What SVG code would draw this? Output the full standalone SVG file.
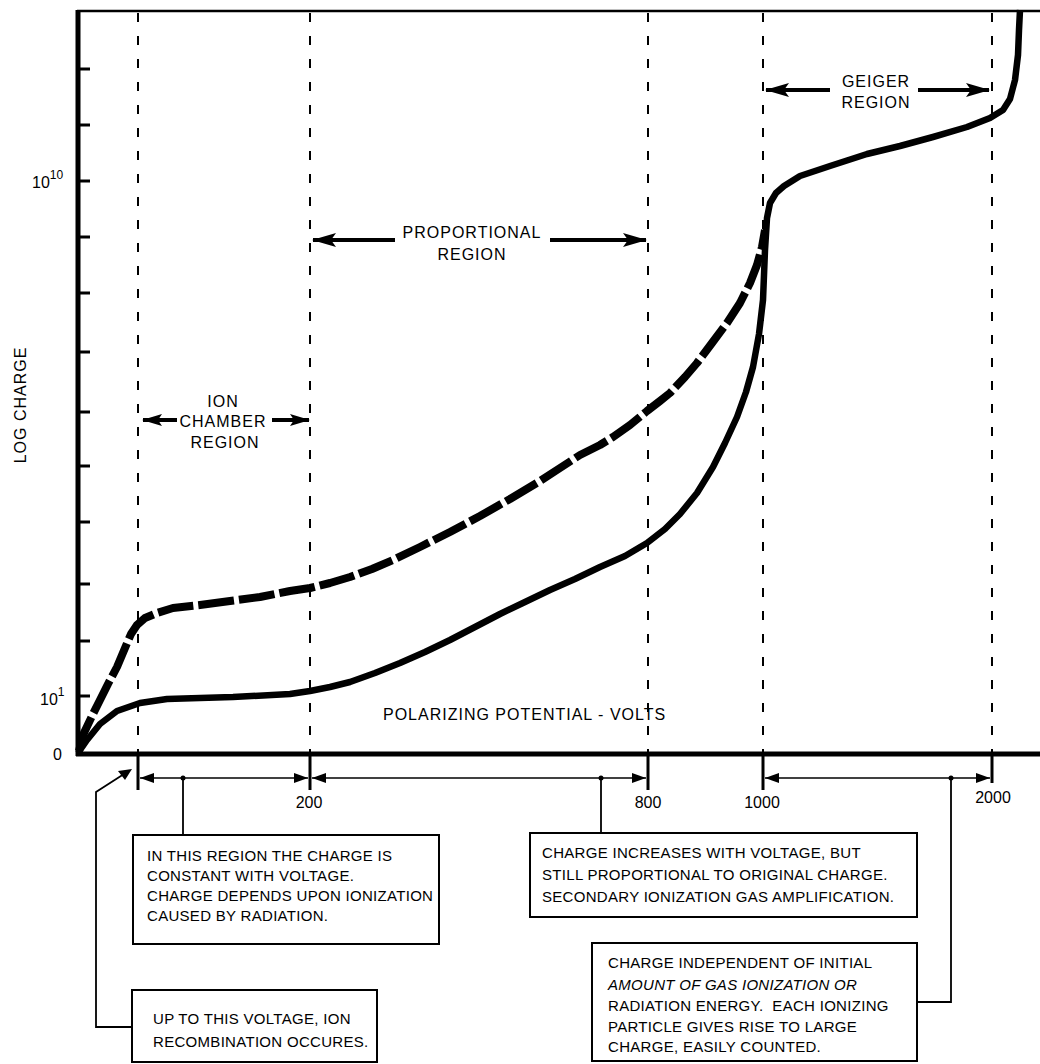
<svg xmlns="http://www.w3.org/2000/svg" width="1040" height="1064" viewBox="0 0 1040 1064">
<defs>
<marker id="dim" markerUnits="userSpaceOnUse" viewBox="0 0 14 10" refX="14" refY="5" markerWidth="14" markerHeight="10" orient="auto-start-reverse"><path d="M0,0 L14,5 L0,10 z" fill="#000"/></marker>
<marker id="big" markerUnits="userSpaceOnUse" viewBox="0 0 24 14" refX="23" refY="7" markerWidth="24" markerHeight="14" orient="auto"><path d="M0,0 L24,7 L0,14 L5,7 z" fill="#000"/></marker>
<marker id="mid" markerUnits="userSpaceOnUse" viewBox="0 0 20 12" refX="19" refY="6" markerWidth="20" markerHeight="12" orient="auto"><path d="M0,0 L20,6 L0,12 L4,6 z" fill="#000"/></marker>
</defs>
<style>
.lbl{font-family:"Liberation Sans",Arial,Helvetica,sans-serif;font-size:16px;letter-spacing:1px;fill:#000}
.num{font-family:"Liberation Sans",Arial,Helvetica,sans-serif;font-size:16px;fill:#000}
.bt{font-family:"Liberation Sans",Arial,Helvetica,sans-serif;font-size:15px;letter-spacing:0.3px;fill:#000;white-space:pre}
.vd{stroke:#000;stroke-width:2;stroke-dasharray:9 14;fill:none}
.tick{stroke:#000;stroke-width:3;fill:none}
.dimln{stroke:#000;stroke-width:1.6;fill:none;marker-start:url(#dim);marker-end:url(#dim)}
.rarrow{stroke:#000;stroke-width:4;fill:none}
.box{fill:#fff;stroke:#000;stroke-width:2}
.lead{stroke:#000;stroke-width:1.8;fill:none}
.curve{fill:none;stroke:#000;stroke-linejoin:round;stroke-linecap:butt}
</style>
<rect x="0" y="0" width="1040" height="1064" fill="#fff"/>

<g id="axes">
<line x1="77" y1="11" x2="1040" y2="11" stroke="#000" stroke-width="2.5"/>
<line x1="78" y1="10" x2="78" y2="756" stroke="#000" stroke-width="5"/>
<line x1="76" y1="754" x2="1040" y2="754" stroke="#000" stroke-width="5"/>
<g class="tick">
<line x1="78" y1="69" x2="90" y2="69"/>
<line x1="78" y1="125" x2="90" y2="125"/>
<line x1="78" y1="181" x2="90" y2="181"/>
<line x1="78" y1="237" x2="90" y2="237"/>
<line x1="78" y1="293" x2="90" y2="293"/>
<line x1="78" y1="352" x2="90" y2="352"/>
<line x1="78" y1="412" x2="90" y2="412"/>
<line x1="78" y1="466" x2="90" y2="466"/>
<line x1="78" y1="522" x2="90" y2="522"/>
<line x1="78" y1="584" x2="90" y2="584"/>
<line x1="78" y1="641" x2="90" y2="641"/>
<line x1="78" y1="696" x2="90" y2="696"/>
</g>
<text class="num" x="32" y="188">10<tspan font-size="12" dy="-9">10</tspan></text>
<text class="num" x="40" y="705">10<tspan font-size="12" dy="-9">1</tspan></text>
<text class="num" x="53" y="760">0</text>
<text class="lbl" text-anchor="middle" transform="translate(26,405) rotate(-90)">LOG CHARGE</text>
<text class="lbl" x="383" y="720">POLARIZING POTENTIAL - VOLTS</text>
</g>

<g id="region-lines">
<line class="vd" x1="138" y1="13" x2="138" y2="752"/>
<line class="vd" x1="310" y1="13" x2="310" y2="752"/>
<line class="vd" x1="648" y1="13" x2="648" y2="752"/>
<line class="vd" x1="763" y1="13" x2="763" y2="752"/>
<line class="vd" x1="992" y1="13" x2="992" y2="752"/>
</g>

<g id="curves">
<path class="curve" stroke-width="6.5" d="M78,753 L87,740 L100,724 L117,711 L140,703 L167,699 L233,697 L290,694 L310,691 L330,687 L350,682 L375,673 L400,663 L425,652 L450,640 L475,627 L500,614 L525,602 L550,590 L575,579 L600,567 L625,556 L647,543 L665,529 L680,514 L697,493 L713,467 L725,443 L737,417 L746,392 L753,367 L759,334 L763,300 L765,250 L767,218 L770,203 L776,193 L784,186 L800,176 L830,166 L867,154 L900,146 L933,137 L967,127 L990,118 L1003,110 L1010,99 L1015,80 L1018,55 L1019,30 L1020,10"/>
<path class="curve" stroke-width="8" stroke-dasharray="36 5" d="M79,751 L83,735 L92,716 L100,700 L108,684 L117,667 L125,648 L131,634 L137,625 L145,618 L157,613 L173,608 L200,605 L230,601 L260,597 L290,591 L310,588 L330,583 L350,577 L372,569 L393,560 L420,547 L450,532 L480,516 L510,499 L540,481 L560,468 L580,455 L600,445 L613,437 L630,425 L647,411 L660,401 L670,393 L685,377 L697,363 L712,343 L727,323 L740,303 L750,283 L757,265 L762,247 L765,230"/>
</g>

<g id="label-ion-chamber">
<text class="lbl" text-anchor="middle" x="223" y="407">ION</text>
<text class="lbl" text-anchor="middle" x="223" y="427">CHAMBER</text>
<text class="lbl" text-anchor="middle" x="225" y="448">REGION</text>
</g>
<g id="label-proportional">
<text class="lbl" text-anchor="middle" x="472" y="238">PROPORTIONAL</text>
<text class="lbl" text-anchor="middle" x="472" y="260">REGION</text>
</g>
<g id="label-geiger">
<text class="lbl" text-anchor="middle" x="876" y="87">GEIGER</text>
<text class="lbl" text-anchor="middle" x="876" y="108">REGION</text>
</g>

<g id="box-ion-chamber">
<rect class="box" x="133" y="835" width="306" height="109"/>
<text class="bt" x="147" y="861">IN THIS REGION THE CHARGE IS</text>
<text class="bt" x="147" y="881">CONSTANT WITH VOLTAGE.</text>
<text class="bt" x="147" y="901">CHARGE DEPENDS UPON IONIZATION</text>
<text class="bt" x="147" y="921">CAUSED BY RADIATION.</text>
</g>
<g id="box-recombination">
<rect class="box" x="132" y="990" width="245" height="72"/>
<text class="bt" x="153" y="1024">UP TO THIS VOLTAGE, ION</text>
<text class="bt" x="153" y="1047">RECOMBINATION OCCURES.</text>
</g>
<g id="box-proportional">
<rect class="box" x="530" y="833" width="387" height="84"/>
<text class="bt" x="542" y="858">CHARGE INCREASES WITH VOLTAGE, BUT</text>
<text class="bt" x="542" y="880">STILL PROPORTIONAL TO ORIGINAL CHARGE.</text>
<text class="bt" x="542" y="902">SECONDARY IONIZATION GAS AMPLIFICATION.</text>
</g>
<g id="box-geiger">
<rect class="box" x="592" y="943" width="325" height="118"/>
<text class="bt" x="608" y="968">CHARGE INDEPENDENT OF INITIAL</text>
<text class="bt" x="608" y="990" font-style="italic">AMOUNT OF GAS IONIZATION OR</text>
<text class="bt" x="608" y="1011">RADIATION ENERGY.  EACH IONIZING</text>
<text class="bt" x="608" y="1032">PARTICLE GIVES RISE TO LARGE</text>
<text class="bt" x="608" y="1052">CHARGE, EASILY COUNTED.</text>
</g>

<g id="connectors">
<g class="tick">
<line x1="138" y1="756" x2="138" y2="790"/>
<line x1="310" y1="756" x2="310" y2="790"/>
<line x1="648" y1="756" x2="648" y2="790"/>
<line x1="763" y1="756" x2="763" y2="790"/>
<line x1="992" y1="756" x2="992" y2="783"/>
</g>
<line class="dimln" x1="140" y1="778" x2="308" y2="778"/>
<line class="dimln" x1="312" y1="778" x2="646" y2="778"/>
<line class="dimln" x1="765" y1="778" x2="990" y2="778"/>
<text class="num" text-anchor="middle" x="309" y="808">200</text>
<text class="num" text-anchor="middle" x="648" y="808">800</text>
<text class="num" text-anchor="middle" x="762" y="808">1000</text>
<text class="num" text-anchor="middle" x="993" y="803">2000</text>
<circle cx="183" cy="778" r="2.5"/>
<circle cx="601" cy="778" r="2.5"/>
<circle cx="951" cy="778" r="2.5"/>
<polyline class="lead" points="183,778 183,835"/>
<polyline class="lead" points="601,778 601,833"/>
<polyline class="lead" points="917,1002 951,1002 951,778"/>
<polyline class="lead" points="132,1027 96,1027 96,792 124,774" />
<path d="M132,769 L118,771 L125,780 z" fill="#000"/>
<line class="rarrow" x1="177" y1="420" x2="143" y2="420" stroke-width="3.5" marker-end="url(#mid)"/>
<line class="rarrow" x1="272" y1="420" x2="309" y2="420" stroke-width="3.5" marker-end="url(#mid)"/>
<line class="rarrow" x1="395" y1="240" x2="313" y2="240" marker-end="url(#big)"/>
<line class="rarrow" x1="550" y1="240" x2="646" y2="240" marker-end="url(#big)"/>
<line class="rarrow" x1="830" y1="90" x2="766" y2="90" marker-end="url(#big)"/>
<line class="rarrow" x1="918" y1="90" x2="989" y2="90" marker-end="url(#big)"/>
</g>
</svg>
